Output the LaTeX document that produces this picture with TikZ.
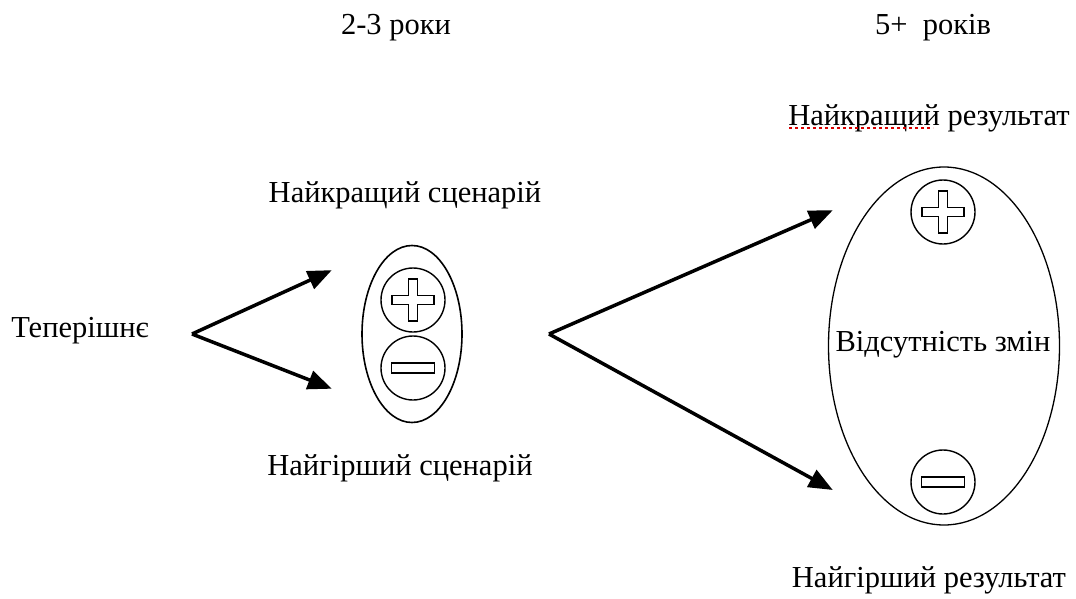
\documentclass[tikz,border=0pt]{standalone}
\usepackage{fontspec}
\setmainfont{Liberation Serif}
\newfontfamily\tmsfont{Liberation Serif}
\usetikzlibrary{arrows.meta,shapes.geometric}
\tikzset{
  lbl/.style={inner sep=0pt, font=\tmsfont\fontsize{30.5}{33}\selectfont},
  arr/.style={line width=3.5pt, -{Triangle[length=24pt,width=19pt]}, shorten >=-2pt},
  oval/.style={draw, line width=1.6pt, ellipse, inner sep=0pt},
  sgn/.style={draw, line width=1.4pt, circle, inner sep=0pt, minimum size=64pt},
  plussign/.pic={\draw[line width=1.4pt] (-21,-4.5)--(-4.5,-4.5)--(-4.5,-21)--(4.5,-21)--(4.5,-4.5)--(21,-4.5)--(21,4.5)--(4.5,4.5)--(4.5,21)--(-4.5,21)--(-4.5,4.5)--(-21,4.5)--cycle;},
  minussign/.pic={\draw[line width=1.4pt] (-21.5,-5)rectangle(21.5,5);}
}
\begin{document}
\begin{tikzpicture}[x=1pt,y=-1pt]
\useasboundingbox (0,0) rectangle (1076,599);
% headers
\node[lbl] (h1) at (396,28) {2-3 роки};
\node[lbl] (h2) at (933,28) {5+\ \ років};
% left
\node[lbl] (now) at (80,331) {Теперішнє};
\coordinate (a1) at (192,334);
% small oval
\node[oval, minimum width=100pt, minimum height=177pt] (small) at (412,334) {};
\node[sgn] (sp) at (413,300) {};
\pic at (sp) {plussign};
\node[sgn] (sm) at (413,368) {};
\pic at (sm) {minussign};
\node[lbl] (best1) at (405,195) {Найкращий сценарій};
\node[lbl] (worst1) at (400,468) {Найгірший сценарій};
\coordinate (t1) at (330,271);
\coordinate (t2) at (330,388);
\draw[arr] (a1) -- (t1);
\draw[arr] (a1) -- (t2);
% right
\coordinate (a2) at (549,334);
\coordinate (t3) at (831,211);
\coordinate (t4) at (831,489);
\draw[arr] (a2) -- (t3);
\draw[arr] (a2) -- (t4);
\node[oval, line width=1.3pt, minimum width=231pt, minimum height=358pt] (big) at (944,346) {};
\node[sgn] (bp) at (943,212) {};
\pic at (bp) {plussign};
\node[sgn] (bm) at (943,482) {};
\pic at (bm) {minussign};
\node[lbl] (none) at (943,345) {Відсутність змін};
\node[lbl] (best2) at (929,118) {Найкращий результат};
\node[lbl] (worst2) at (929,580) {Найгірший результат};
\draw[red!85!black, line width=1.5pt, dash pattern=on 3pt off 3pt] (best2.base west)++(1,3) -- ++(144,0);
\end{tikzpicture}
\end{document}
